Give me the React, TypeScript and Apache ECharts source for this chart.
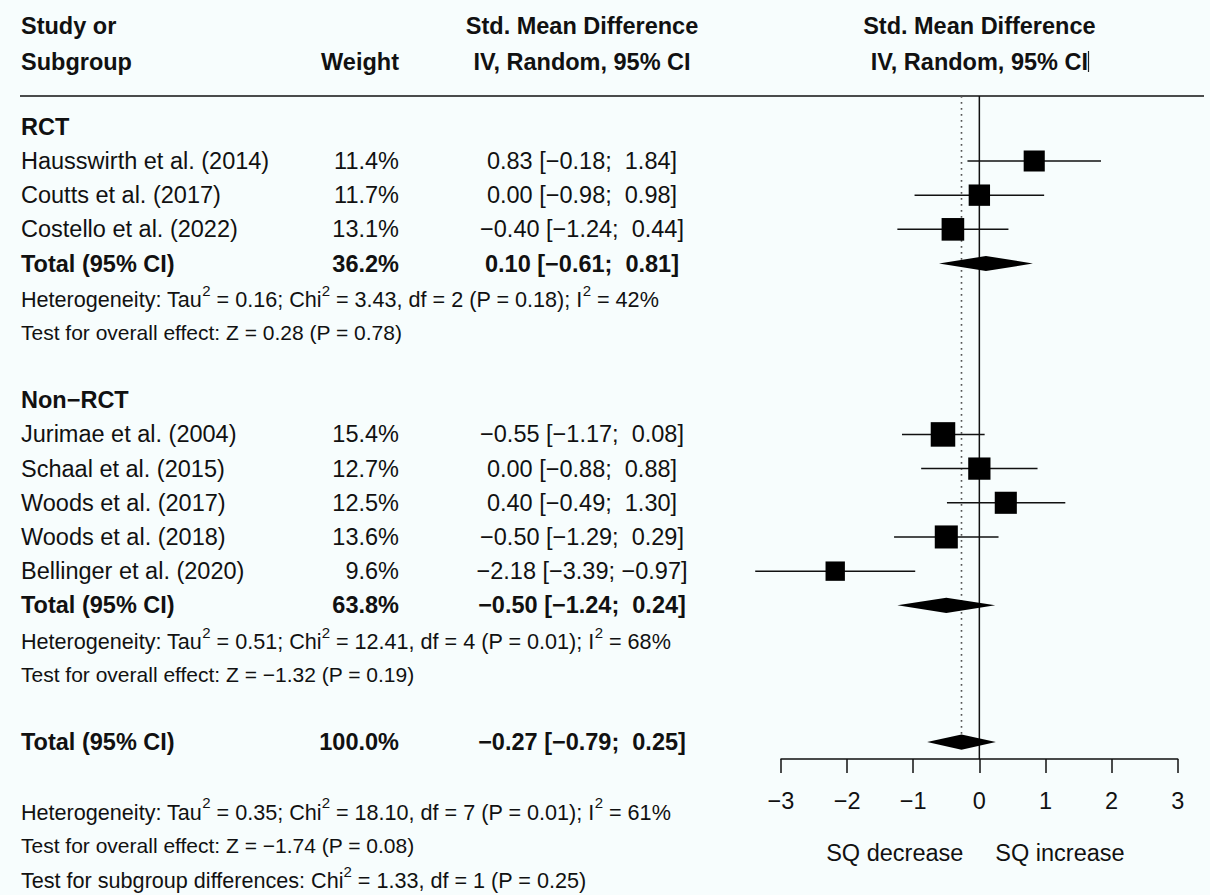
import React, { useEffect, useRef } from "react";
import * as echarts from "echarts";

const FONT = "'Liberation Sans', Arial, Helvetica, sans-serif";
const BG = "#f7fdfd";
const INK = "#111111";

// ---- data ----
const studyNames = [
  "Hausswirth et al. (2014)",
  "Coutts et al. (2017)",
  "Costello et al. (2022)",
  "Jurimae et al. (2004)",
  "Schaal et al. (2015)",
  "Woods et al. (2017)",
  "Woods et al. (2018)",
  "Bellinger et al. (2020)",
];
const studyRows = [1, 2, 3, 9, 10, 11, 12, 13];
const studyWeights = [11.4, 11.7, 13.1, 15.4, 12.7, 12.5, 13.6, 9.6];
const studySMD = [0.83, 0.0, -0.4, -0.55, 0.0, 0.4, -0.5, -2.18];
const studyLower = [-0.18, -0.98, -1.24, -1.17, -0.88, -0.49, -1.29, -3.39];
const studyUpper = [1.84, 0.98, 0.44, 0.08, 0.88, 1.3, 0.29, -0.97];

const groupTitles = ["RCT", "Non\u2212RCT"];
const groupTitleRows = [0, 8];

const totalRows = [4, 14, 18];
const totalWeights = [36.2, 63.8, 100.0];
const totalSMD = [0.1, -0.5, -0.27];
const totalLower = [-0.61, -1.24, -0.79];
const totalUpper = [0.81, 0.24, 0.25];

const hetRows = [5, 15, 20];
const hetTau2 = ["0.16", "0.51", "0.35"];
const hetChi2 = ["3.43", "12.41", "18.10"];
const hetDf = [2, 4, 7];
const hetP = ["0.18", "0.01", "0.01"];
const hetI2 = [42, 68, 61];

const testRows = [6, 16, 21];
const testZ = ["0.28", "\u22121.32", "\u22121.74"];
const testP = ["0.78", "0.19", "0.08"];

const subgroupRow = 22;
const subgroupChi2 = "1.33";
const subgroupDf = 1;
const subgroupP = "0.25";

const xTicks = [-3, -2, -1, 0, 1, 2, 3];
const leftLabel = "SQ decrease";
const rightLabel = "SQ increase";

// row axis extent (row units)
const ROW_MIN = -0.901;
const ROW_MAX = 18.496;

const fmt = (v: number) => (v < 0 ? "\u2212" : "") + Math.abs(v).toFixed(2);
const ciText = (e: number, lo: number, hi: number) =>
  `${fmt(e)} [${lo >= 0 ? " " : ""}${fmt(lo)}; ${hi >= 0 ? " " : ""}${fmt(hi)}]`;

export default function App() {
  const ref = useRef<HTMLDivElement>(null);

  useEffect(() => {
    document.body.style.margin = "0";
    document.body.style.background = BG;
    const el = ref.current!;
    const chart = echarts.init(el, null, { renderer: "svg", width: 1210, height: 895 });

    const studyData = studyNames.map((_, i) => [
      studyLower[i],
      studyUpper[i],
      studySMD[i],
      studyRows[i],
      studyWeights[i],
    ]);
    const diamondData = totalRows.map((r, i) => [totalLower[i], totalUpper[i], totalSMD[i], r]);
    const refData = [
      [0, ROW_MIN, ROW_MAX, 0],
      [totalSMD[2], ROW_MIN, totalRows[2], 1],
    ];

    chart.setOption({
      animation: false,
      backgroundColor: BG,
      grid: { left: 781, right: 32.3, top: 96, bottom: 136, containLabel: false },
      xAxis: {
        type: "value",
        position: "bottom",
        min: -3,
        max: 3,
        interval: 1,
        axisLine: { show: true, onZero: false, lineStyle: { color: INK, width: 1.5 } },
        axisTick: { show: true, length: 14, lineStyle: { color: INK, width: 1.5 } },
        axisLabel: {
          color: INK,
          fontFamily: FONT,
          fontSize: 23.5,
          margin: 30,
          formatter: (v: number) => (xTicks.includes(v) ? (v < 0 ? "\u2212" + Math.abs(v) : String(v)) : ""),
        },
        splitLine: { show: false },
      },
      yAxis: { type: "value", min: ROW_MIN, max: ROW_MAX, inverse: true, show: false },
      series: [
        {
          type: "custom",
          clip: false,
          encode: { x: [0], y: [1, 2] },
          data: refData,
          renderItem: (_p: any, api: any) => {
            const x = api.value(0);
            const a = api.coord([x, api.value(1)]);
            const b = api.coord([x, api.value(2)]);
            const dotted = api.value(3) === 1;
            return {
              type: "line",
              shape: { x1: a[0], y1: a[1], x2: b[0], y2: b[1] },
              style: dotted
                ? { stroke: "#555", lineWidth: 1.6, lineDash: [1.8, 4.2] }
                : { stroke: INK, lineWidth: 1.5 },
            };
          },
        },
        {
          type: "custom",
          clip: false,
          encode: { x: [0, 1, 2], y: 3 },
          data: studyData,
          renderItem: (_p: any, api: any) => {
            const row = api.value(3);
            const a = api.coord([api.value(0), row]);
            const b = api.coord([api.value(1), row]);
            const c = api.coord([api.value(2), row]);
            const s = 6.25 * Math.sqrt(api.value(4));
            return {
              type: "group",
              children: [
                { type: "line", shape: { x1: a[0], y1: a[1], x2: b[0], y2: b[1] }, style: { stroke: INK, lineWidth: 1.5 } },
                { type: "rect", shape: { x: c[0] - s / 2, y: c[1] - s / 2, width: s, height: s }, style: { fill: "#000" } },
              ],
            };
          },
        },
        {
          type: "custom",
          clip: false,
          encode: { x: [0, 1, 2], y: 3 },
          data: diamondData,
          renderItem: (_p: any, api: any) => {
            const row = api.value(3);
            const a = api.coord([api.value(0), row]);
            const b = api.coord([api.value(1), row]);
            const c = api.coord([api.value(2), row]);
            const h = 7.6;
            return {
              type: "polygon",
              shape: { points: [[a[0], a[1]], [c[0], c[1] - h], [b[0], b[1]], [c[0], c[1] + h]] },
              style: { fill: "#000" },
            };
          },
        },
      ],
    });

    const py = (r: number) => chart.convertToPixel({ yAxisIndex: 0 }, r) as unknown as number;
    const px = (v: number) => chart.convertToPixel({ xAxisIndex: 0 }, v) as unknown as number;

    const NAME_X = 21;
    const WEIGHT_X = 399;
    const EFFECT_X = 582;
    const MAIN = 23.5;
    const SMALL = 21;
    const HET = 21.6;

    const txt = (x: number, y: number, text: string, align: string, size: number, bold = false) => ({
      type: "text",
      x,
      y,
      silent: true,
      style: {
        text,
        fill: INK,
        fontFamily: FONT,
        fontSize: size,
        fontWeight: bold ? "bold" : "normal",
        align,
        verticalAlign: "middle",
        textAlign: align,
        textVerticalAlign: "middle",
      },
    });

    const rich = {
      t: { fontFamily: FONT, fontSize: HET, fill: INK, lineHeight: 28, verticalAlign: "bottom" },
      s: { fontFamily: FONT, fontSize: 15, fill: INK, lineHeight: 15, verticalAlign: "top" },
    };
    const richTxt = (x: number, y: number, text: string) => ({
      type: "text",
      x,
      y,
      silent: true,
      style: {
        text,
        rich,
        fill: INK,
        fontFamily: FONT,
        fontSize: HET,
        align: "left",
        verticalAlign: "middle",
        textAlign: "left",
        textVerticalAlign: "middle",
      },
    });

    const els: any[] = [];
    // headers
    els.push(txt(NAME_X, 26, "Study or", "left", MAIN, true));
    els.push(txt(NAME_X, 62, "Subgroup", "left", MAIN, true));
    els.push(txt(WEIGHT_X, 62, "Weight", "right", MAIN, true));
    els.push(txt(EFFECT_X, 26, "Std. Mean Difference", "center", MAIN, true));
    els.push(txt(EFFECT_X, 62, "IV, Random, 95% CI", "center", MAIN, true));
    const zeroX = px(0);
    els.push(txt(zeroX, 26, "Std. Mean Difference", "center", MAIN, true));
    els.push(txt(zeroX, 62, "IV, Random, 95% CI", "center", MAIN, true));
    els.push({ type: "line", silent: true, shape: { x1: 1088.5, y1: 51, x2: 1088.5, y2: 72 }, style: { stroke: "#222", lineWidth: 1.2 } });
    // header rule
    els.push({ type: "line", silent: true, shape: { x1: 20, y1: 96, x2: 1204, y2: 96 }, style: { stroke: INK, lineWidth: 1.5 } });

    groupTitles.forEach((g, i) => els.push(txt(NAME_X, py(groupTitleRows[i]), g, "left", MAIN, true)));
    studyNames.forEach((n, i) => {
      const y = py(studyRows[i]);
      els.push(txt(NAME_X, y, n, "left", MAIN));
      els.push(txt(WEIGHT_X, y, studyWeights[i].toFixed(1) + "%", "right", MAIN));
      els.push(txt(EFFECT_X, y, ciText(studySMD[i], studyLower[i], studyUpper[i]), "center", MAIN));
    });
    totalRows.forEach((r, i) => {
      const y = py(r);
      els.push(txt(NAME_X, y, "Total (95% CI)", "left", MAIN, true));
      els.push(txt(WEIGHT_X, y, totalWeights[i].toFixed(1) + "%", "right", MAIN, true));
      els.push(txt(EFFECT_X, y, ciText(totalSMD[i], totalLower[i], totalUpper[i]), "center", MAIN, true));
    });
    hetRows.forEach((r, i) => {
      const t =
        `{t|Heterogeneity: Tau}{s|2}{t| = ${hetTau2[i]}; Chi}{s|2}{t| = ${hetChi2[i]}, df = ${hetDf[i]} (P = ${hetP[i]}); I}{s|2}{t| = ${hetI2[i]}%}`;
      els.push(richTxt(NAME_X, py(r) - 1, t));
    });
    testRows.forEach((r, i) => {
      els.push(txt(NAME_X, py(r) + 1, `Test for overall effect: Z = ${testZ[i]} (P = ${testP[i]})`, "left", SMALL));
    });
    els.push(
      richTxt(NAME_X, py(subgroupRow) - 1, `{t|Test for subgroup differences: Chi}{s|2}{t| = ${subgroupChi2}, df = ${subgroupDf} (P = ${subgroupP})}`)
    );
    // direction labels
    const axisY = py(ROW_MAX);
    els.push(txt(zeroX - 16, axisY + 94, leftLabel, "right", MAIN));
    els.push(txt(zeroX + 16, axisY + 94, rightLabel, "left", MAIN));

    chart.setOption({ graphic: { elements: els } });

    return () => chart.dispose();
  }, []);

  return <div ref={ref} style={{ width: 1210, height: 895, background: BG }} />;
}
